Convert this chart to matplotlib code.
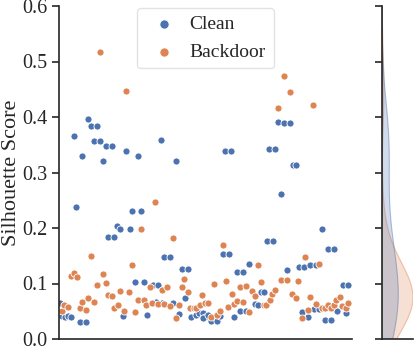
import matplotlib
matplotlib.use('Agg')
import matplotlib.pyplot as plt
import seaborn as sns
import numpy as np

sns.set_theme(style='ticks')
plt.rcParams['font.family'] = ['Liberation Serif', 'DejaVu Serif']

# Sample index (x) and silhouette score (y) per series
clean_x = [4.9, 5.8, 7.8, 9.8, 10.7, 12.7, 11.8, 13.8, 14.7, 15.6, 17.6, 16.4, 18.4, 19.3, 20.4,
           22.4, 23.6, 24.4, 26.2, 27.3, 34.0, 35.0, 37.0, 38.9, 41.1, 42.9, 54.6, 56.6, 55.4,
           57.4, 59.3, 61.3, 63.3, 69.2, 71.2, 70.1, 72.1, 73.0, 75.0, 77.0, 73.9, 76.0, 77.9,
           79.0, 80.0, 81.8, 83.8, 85.8, 87.7, 89.7, 91.7, 94.7, 96.4,
           0.2, 0.9, 2.0, 2.9, 4.0, 6.9, 8.9, 21.3, 25.3, 28.2, 29.3, 31.3, 33.1, 32.2, 34.2,
           37.9, 40.0, 42.0, 44.0, 45.8, 46.7, 48.1, 48.7, 47.9, 49.7, 50.7, 52.7, 53.6, 58.4,
           60.4, 62.2, 65.3, 66.2, 67.3, 68.2, 80.9, 82.9, 84.9, 86.7, 88.7, 90.7, 92.7, 95.6]
clean_y = [0.366, 0.238, 0.330, 0.397, 0.383, 0.383, 0.356, 0.356, 0.321, 0.347, 0.347, 0.184,
           0.184, 0.204, 0.199, 0.338, 0.199, 0.231, 0.330, 0.231, 0.359, 0.148, 0.148, 0.321,
           0.126, 0.126, 0.154, 0.154, 0.338, 0.338, 0.121, 0.121, 0.136, 0.177, 0.177, 0.343,
           0.343, 0.391, 0.389, 0.389, 0.261, 0.124, 0.314, 0.314, 0.129, 0.129, 0.134, 0.134,
           0.199, 0.163, 0.163, 0.097, 0.097,
           0.064, 0.042, 0.040, 0.041, 0.039, 0.031, 0.031, 0.041, 0.103, 0.103, 0.044, 0.097,
           0.097, 0.066, 0.065, 0.065, 0.045, 0.074, 0.040, 0.043, 0.046, 0.046, 0.040, 0.038,
           0.043, 0.032, 0.032, 0.041, 0.040, 0.051, 0.051, 0.063, 0.061, 0.085, 0.085, 0.049,
           0.039, 0.054, 0.054, 0.034, 0.034, 0.051, 0.047]

backdoor_x = [13.7, 22.3, 75.0, 77.0, 73.0, 84.8, 32.0, 27.3, 38.0, 10.8, 54.6, 82.0, 24.4, 66.4,
              86.7,
              0.9, 1.8, 2.9, 4.0, 4.9, 6.0, 6.9, 7.8, 8.9, 9.8, 11.8, 12.7, 14.7, 15.6, 16.4,
              17.6, 18.4, 19.6, 20.4, 21.6, 23.3, 25.3, 26.2, 28.2, 29.1, 30.2, 31.1, 33.1, 34.2,
              35.1, 36.0, 37.1, 39.1, 40.0, 40.9, 41.8, 42.9, 43.8, 44.9, 45.8, 46.9, 47.8, 48.8,
              49.8, 50.7, 52.7, 53.6, 51.6, 55.6, 56.4, 57.6, 58.4, 59.3, 60.2, 61.3, 62.2, 63.3,
              64.2, 65.3, 67.3, 68.2, 69.1, 70.2, 71.1, 72.0, 74.0, 76.0, 77.8, 78.9, 79.8, 80.9,
              82.9, 83.8, 85.8, 87.6, 88.7, 89.8, 90.7, 91.6, 92.4, 93.6, 94.4, 95.6, 96.4]
backdoor_y = [0.518, 0.447, 0.473, 0.445, 0.417, 0.422, 0.246, 0.199, 0.182, 0.149, 0.169, 0.147,
              0.134, 0.134, 0.135,
              0.051, 0.062, 0.057, 0.114, 0.119, 0.111, 0.056, 0.067, 0.053, 0.074, 0.067, 0.098,
              0.118, 0.101, 0.080, 0.077, 0.055, 0.061, 0.086, 0.050, 0.085, 0.049, 0.070, 0.071,
              0.062, 0.093, 0.065, 0.063, 0.088, 0.063, 0.094, 0.059, 0.037, 0.061, 0.093, 0.108,
              0.085, 0.055, 0.055, 0.055, 0.062, 0.080, 0.065, 0.065, 0.040, 0.044, 0.051, 0.100,
              0.104, 0.058, 0.081, 0.063, 0.068, 0.093, 0.067, 0.095, 0.049, 0.086, 0.078, 0.103,
              0.061, 0.061, 0.071, 0.081, 0.089, 0.106, 0.107, 0.081, 0.073, 0.105, 0.038, 0.052,
              0.076, 0.063, 0.055, 0.056, 0.062, 0.055, 0.062, 0.070, 0.075, 0.059, 0.055, 0.064]

series_names = ['Clean', 'Backdoor']
colors = ['#4C72B0', '#DD8452']
y_ticks = [0.0, 0.1, 0.2, 0.3, 0.4, 0.5, 0.6]

W, H = 416, 351
fig = plt.figure(figsize=(W / 100, H / 100), dpi=100)
ax = fig.add_axes([59 / W, 12 / H, 293 / W, 333 / H])
axm = fig.add_axes([382 / W, 12 / H, 31 / W, 333 / H])

all_y = clean_y + backdoor_y
all_hue = [series_names[0]] * len(clean_y) + [series_names[1]] * len(backdoor_y)

for xs, ys, name, c in [(clean_x, clean_y, series_names[0], colors[0]),
                        (backdoor_x, backdoor_y, series_names[1], colors[1])]:
    ax.scatter(xs, ys, s=26, color=c, edgecolor='white', linewidth=0.6, label=name)

sns.kdeplot(y=all_y, hue=all_hue, hue_order=series_names, palette=colors, ax=axm,
            fill=True, common_norm=True, bw_adjust=1.5, alpha=0.25, linewidth=0.8,
            legend=False)
for coll in axm.collections:
    fc = coll.get_facecolor()[0]
    coll.set_edgecolor((fc[0], fc[1], fc[2], 0.45))
xmax = max(coll.get_paths()[0].vertices[:, 0].max() for coll in axm.collections)
axm.set_xlim(0, xmax * 1.0)

ax.set_xlim(0, 97.7)
ax.set_ylim(0, 0.6)
ax.set_yticks(y_ticks)
ax.set_xticks([])
ax.set_ylabel('Silhouette Score', fontsize=16, labelpad=1)
ax.tick_params(axis='y', labelsize=14.5, length=5, width=1.2, colors='#262626')
for s in ['top', 'right']:
    ax.spines[s].set_visible(False)
for s in ['left', 'bottom']:
    ax.spines[s].set_linewidth(1.2)
    ax.spines[s].set_color('#262626')

leg = ax.legend(loc='upper center', bbox_to_anchor=(0.5, 1.0), borderaxespad=0.1,
                fontsize=14, markerscale=1.3, handletextpad=0.3, frameon=True)
leg.get_frame().set_edgecolor('#dddddd')

axm.set_ylim(0, 0.6)
axm.set_yticks(y_ticks)
axm.set_yticklabels([])
axm.set_xticks([])
axm.set_xlabel('')
axm.set_ylabel('')
axm.tick_params(axis='y', length=5, width=1.2, colors='#262626')
for s in ['top', 'right']:
    axm.spines[s].set_visible(False)
for s in ['left', 'bottom']:
    axm.spines[s].set_linewidth(1.2)
    axm.spines[s].set_color('#262626')

fig.savefig('out.png', dpi=100)
